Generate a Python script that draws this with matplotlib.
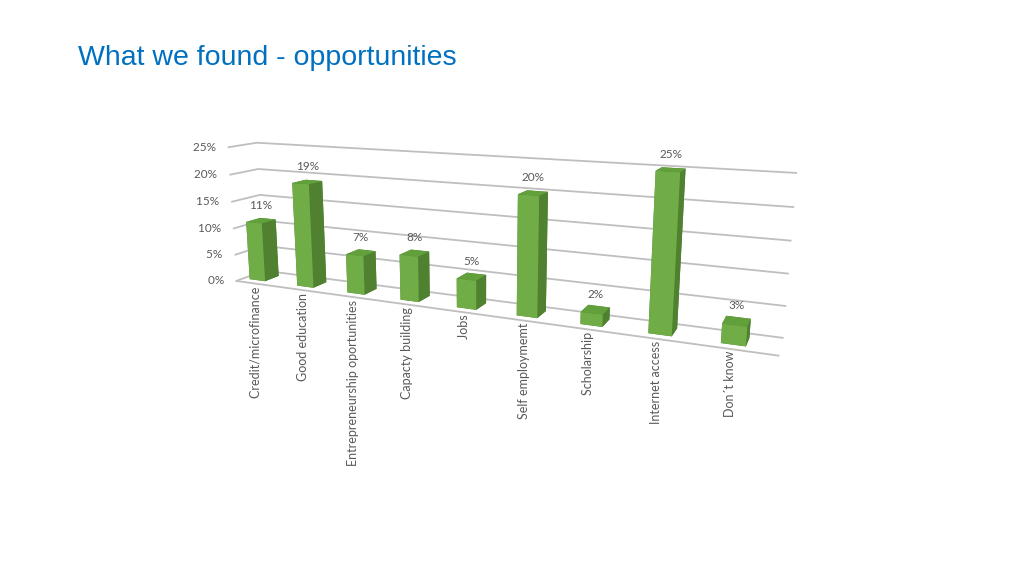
import matplotlib.pyplot as plt
import numpy as np
from mpl_toolkits.mplot3d import proj3d

categories = ["Credit/microfinance", "Good education", "Entrepreneurship oportunities",
              "Capacty building", "Jobs", "Self employmemt", "Scholarship",
              "Internet access", "Don\u00b4t know"]
values = [11, 19, 7, 8, 5, 20, 2, 25, 3]
z_ticks = [0, 5, 10, 15, 20, 25]
z_labels = ["0%", "5%", "10%", "15%", "20%", "25%"]

FRONT = "#70AD47"
TOP = "#62A03C"
SIDE = "#4F8130"
GRID = "#BFBFBF"
TXT = "#595959"
LBL_FONT = ["Lato", "DejaVu Sans"]

fig = plt.figure(figsize=(10.24, 5.76), dpi=100)
fig.text(0.076, 0.9, "What we found - opportunities", color="#0070C0", fontsize=20.5,
         family=["Liberation Sans Narrow", "Liberation Sans"], va="center")

ax = fig.add_axes([0.103, 0.183, 0.72, 0.8], projection="3d",
                  proj_type="persp", focal_length=0.34)

n = len(values)
xs = np.arange(n)
bw, bd = 0.33, 0.5
y0 = 0.25
# face order in bar3d: -z, +z, -y, +y, -x, +x
for x, v in zip(xs, values):
    bars = ax.bar3d(x - bw / 2, y0, 0, bw, bd, v,
                    color=[SIDE, TOP, FRONT, SIDE, SIDE, SIDE], shade=False,
                    edgecolor="none")
    bars.set_clip_on(False)  # 3d axes box is square, don't cut the right bars

ax.set_xlim(-0.3, n - 0.4)
ax.set_ylim(0, 1)
ax.set_zlim(0, 25)
ax.set_xticks([])
ax.set_yticks([])
ax.set_zticks(z_ticks)
ax.set_zticklabels([])
for axis in (ax.xaxis, ax.yaxis, ax.zaxis):
    axis.set_pane_color((1, 1, 1, 0))
    axis.pane.set_edgecolor((1, 1, 1, 0))
    axis.line.set_color((1, 1, 1, 0))
# front edge of the floor
ax.xaxis.line.set_color(GRID)
ax.xaxis.line.set_linewidth(1.3)
ax.zaxis._axinfo["grid"]["color"] = GRID
ax.zaxis._axinfo["grid"]["linewidth"] = 1.3
ax.zaxis._axinfo["tick"]["inward_factor"] = 0
ax.zaxis._axinfo["tick"]["outward_factor"] = 0

ax.view_init(elev=12.5, azim=-66)
ax.set_box_aspect((10, 0.85, 2.6), zoom=1.27)


def to2d(x, y, z):
    px, py, _ = proj3d.proj_transform(x, y, z, ax.get_proj())
    return px, py


for z, lab in zip(z_ticks, z_labels):
    px, py = to2d(-0.3, 0, z)
    ax.text2D(px, py, lab + "    ", transform=ax.transData, ha="right", va="center",
              fontsize=8.5, color=TXT, family=LBL_FONT)

for x, v, cat in zip(xs, values, categories):
    px, py = to2d(x, y0 + bd / 2, v)
    ax.text2D(px, py, f"{v}%\n", transform=ax.transData, ha="center", va="bottom",
              fontsize=8.5, color=TXT, family=LBL_FONT, linespacing=0.9)
    px, py = to2d(x - 0.05, y0, 0)
    ax.text2D(px, py, cat + "  ", transform=ax.transData, rotation=90,
              ha="center", va="top", fontsize=9, color=TXT, family=LBL_FONT)

fig.savefig("out.png", dpi=100)
